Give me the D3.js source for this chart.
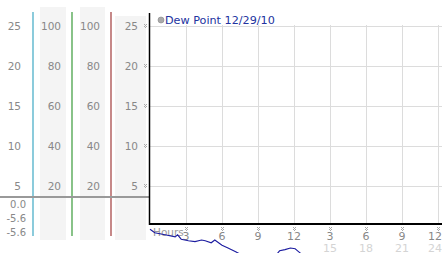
<!DOCTYPE html>
<html>
<head>
<meta charset="utf-8">
<script src="https://cdn.jsdelivr.net/npm/d3@7"></script>
<style>
  body { margin: 0; background: #fff; }
  svg { display: block; font-family: "DejaVu Sans", Verdana, sans-serif; }
</style>
</head>
<body>
<div id="chart"></div>
<script>
const W = 442;
const H = 253;

// Dew point trace (hours since midnight, deg C) — much of it falls below the frame
const hours = [0, 0.4, 1.25, 2.1, 2.3, 2.6, 3.2, 3.75, 4.3, 4.6, 5.1, 5.4, 6.0, 6.5, 7.1, 7.5,
  8.5, 9.5, 10.3, 10.8, 11.25, 11.7, 12.1, 12.3, 13, 15, 18, 21, 24];
const dewPoint = [-0.4, -0.85, -1.1, -1.35, -1.1, -1.65, -1.85, -1.95, -1.75, -1.85, -2.1, -1.75, -2.4, -2.75, -3.2, -3.5,
  -4.4, -4.9, -4.0, -3.1, -2.95, -2.75, -2.85, -3.1, -4.0, -4.8, -5.2, -5.5, -5.6];

const tempTicks = [5, 10, 15, 20, 25];
const pctTicks = [20, 40, 60, 80, 100];
const hourTicks = [3, 6, 9, 12, 15, 18, 21, 24];
const hourLabels = ['3', '6', '9', '12', '3', '6', '9', '12'];
const hour24Labels = ['', '', '', '', '15', '18', '21', '24'];
const statLabels = ['0.0', '-5.6', '-5.6'];
const legendLabel = 'Dew Point 12/29/10';

const x = d3.scaleLinear().domain([0, 24]).range([150, 438]);
const y = d3.scaleLinear().domain([0, 25]).range([226, 26]);
const yPct = d3.scaleLinear().domain([0, 100]).range([226, 26]);

const svg = d3.select('#chart').append('svg')
  .attr('width', W).attr('height', H);

// grey column backgrounds on the left
const cols = [
  { x0: 40, x1: 66, top: 7 },
  { x0: 80, x1: 105, top: 7 },
  { x0: 115, x1: 146, top: 16 }
];
svg.selectAll('rect.col').data(cols).join('rect')
  .attr('class', 'col')
  .attr('x', (d) => d.x0).attr('y', (d) => d.top)
  .attr('width', (d) => d.x1 - d.x0).attr('height', (d) => 240 - d.top)
  .attr('fill', '#f4f4f4');

// coloured dividers
const dividers = [{ x: 33, c: '#3fa8c4' }, { x: 72, c: '#3a9a3a' }, { x: 111, c: '#a03a3a' }];
svg.selectAll('line.div').data(dividers).join('line')
  .attr('x1', (d) => d.x).attr('x2', (d) => d.x)
  .attr('y1', 12).attr('y2', 236)
  .attr('stroke', (d) => d.c).attr('stroke-width', 1.2);

// left scale labels
const labelCol = (ticks, scale, xr) =>
  svg.append('g').selectAll('text').data(ticks).join('text')
    .attr('x', xr).attr('y', (d) => scale(d) + 4)
    .attr('text-anchor', 'end')
    .attr('font-size', 10.5).attr('fill', '#888')
    .text((d) => d);

labelCol(tempTicks, y, 21);
labelCol(pctTicks, yPct, 61);
labelCol(pctTicks, yPct, 100);
labelCol(tempTicks, y, 138);

// grey separator across the left panels
svg.append('line')
  .attr('x1', 0).attr('x2', 149).attr('y1', 197).attr('y2', 197)
  .attr('stroke', '#999').attr('stroke-width', 2);

svg.append('g').selectAll('text').data(statLabels).join('text')
  .attr('x', 26).attr('y', (d, i) => 208 + i * 14)
  .attr('text-anchor', 'end')
  .attr('font-size', 10).attr('fill', '#888')
  .text((d) => d);

// plot grid
svg.append('g').selectAll('line').data(tempTicks).join('line')
  .attr('x1', 149).attr('x2', W)
  .attr('y1', (d) => y(d) + 0.5).attr('y2', (d) => y(d) + 0.5)
  .attr('stroke', '#dcdcdc');

svg.append('g').selectAll('line').data(hourTicks).join('line')
  .attr('x1', (d) => x(d) + 0.5).attr('x2', (d) => x(d) + 0.5)
  .attr('y1', 25).attr('y2', 224)
  .attr('stroke', '#dcdcdc');

// little dotted tick markers
const dots = [[0, 0], [2, 0], [1, 1], [0, 2], [2, 2], [1, 3]];
const mark = (cx, cy) => svg.append('g')
  .attr('transform', `translate(${Math.round(cx) - 1},${Math.round(cy) - 2})`)
  .selectAll('rect').data(dots).join('rect')
  .attr('x', (d) => d[0]).attr('y', (d) => d[1])
  .attr('width', 1).attr('height', 1)
  .attr('fill', '#aaa');

tempTicks.forEach((d) => mark(145, y(d)));
hourTicks.forEach((d) => mark(x(d), 229));

// axes
svg.append('line')
  .attr('x1', 149.5).attr('x2', 149.5).attr('y1', 13).attr('y2', 225)
  .attr('stroke', '#000').attr('stroke-width', 1.5);
svg.append('line')
  .attr('x1', 149).attr('x2', W).attr('y1', 224).attr('y2', 224)
  .attr('stroke', '#000').attr('stroke-width', 2);

// hour labels
svg.append('text')
  .attr('x', 153).attr('y', 236)
  .attr('font-size', 10.5).attr('fill', '#999').text('Hours');

const last = hourTicks.length - 1;
svg.append('g').selectAll('text').data(hourTicks).join('text')
  .attr('x', (d, i) => (i === last ? W : x(d)))
  .attr('y', 240)
  .attr('text-anchor', (d, i) => (i === last ? 'end' : 'middle'))
  .attr('font-size', 11).attr('fill', '#888')
  .text((d, i) => hourLabels[i]);

svg.append('g').selectAll('text').data(hourTicks).join('text')
  .attr('x', (d, i) => (i === last ? W : x(d)))
  .attr('y', 252)
  .attr('text-anchor', (d, i) => (i === last ? 'end' : 'middle'))
  .attr('font-size', 11).attr('fill', '#d4d4d4')
  .text((d, i) => hour24Labels[i]);

// dew point line (not clipped, runs below the frame)
const line = d3.line()
  .x((d, i) => x(hours[i]))
  .y((d) => y(d));

svg.append('path')
  .datum(dewPoint)
  .attr('d', line)
  .attr('fill', 'none')
  .attr('stroke', '#1c1ca0')
  .attr('stroke-width', 1.1);

// legend
svg.append('circle')
  .attr('cx', 161).attr('cy', 20).attr('r', 3)
  .attr('fill', '#aaa').attr('stroke', '#888').attr('stroke-width', 0.6);
svg.append('text')
  .attr('x', 165).attr('y', 24)
  .attr('font-size', 11.2).attr('fill', '#2233a0')
  .text(legendLabel);
</script>
</body>
</html>
